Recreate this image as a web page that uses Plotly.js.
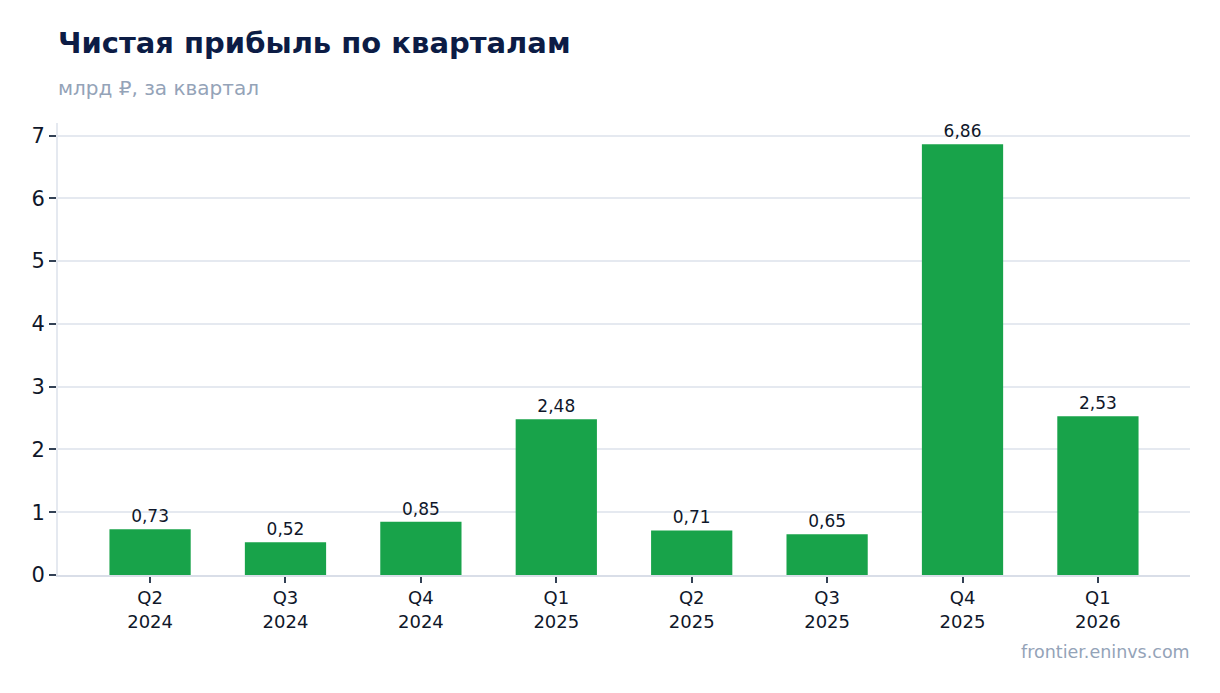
<!DOCTYPE html>
<html>
<head>
<meta charset="utf-8">
<script src="https://cdn.plot.ly/plotly-3.0.1.min.js"></script>
<style>
  html, body { margin: 0; padding: 0; background: #ffffff; }
  #chart { width: 1220px; height: 693px; }
</style>
</head>
<body>
<div id="chart"></div>
<script>
// квартальная чистая прибыль, млрд руб.
var quarters = ['Q2<br>2024', 'Q3<br>2024', 'Q4<br>2024', 'Q1<br>2025', 'Q2<br>2025', 'Q3<br>2025', 'Q4<br>2025', 'Q1<br>2026'];
var profit = [0.73, 0.52, 0.85, 2.48, 0.71, 0.65, 6.86, 2.53];
var labels = profit.map(function (v) { return v.toFixed(2).replace('.', ','); });

var font = 'DejaVu Sans, sans-serif';

var trace = {
    type: 'bar',
    x: quarters,
    y: profit,
    text: labels,
    textposition: 'outside',
    cliponaxis: false,
    textfont: { family: font, size: 17, color: '#0f172a' },
    marker: { color: '#18a34a' },
    width: 0.6,
    hoverinfo: 'none'
};

var layout = {
    width: 1220,
    height: 693,
    margin: { l: 58, r: 30, t: 123, b: 118 },
    paper_bgcolor: '#ffffff',
    plot_bgcolor: '#ffffff',
    showlegend: false,
    font: { family: font, color: '#0f172a' },
    xaxis: {
        type: 'category',
        range: [-0.68, 7.68],
        tickfont: { family: font, size: 18, color: '#0f172a' },
        ticks: 'outside',
        ticklen: 6,
        tickwidth: 2,
        tickcolor: '#334155',
        showgrid: false,
        showline: true,
        linecolor: '#d9dee8',
        linewidth: 1.5
    },
    yaxis: {
        range: [0, 7.2],
        dtick: 1,
        tickfont: { family: font, size: 21, color: '#0f172a' },
        ticks: 'outside',
        ticklen: 7,
        tickwidth: 2,
        tickcolor: '#334155',
        gridcolor: '#e5e9f0',
        gridwidth: 2,
        zeroline: false,
        showline: true,
        linecolor: '#e5e9f0',
        linewidth: 2
    },
    annotations: [
        {
            text: '<b>Чистая прибыль по кварталам</b>',
            xref: 'paper', yref: 'paper', x: 0, y: 1,
            xanchor: 'left', yanchor: 'middle',
            yshift: 80,
            xshift: -2,
            showarrow: false,
            font: { family: font, size: 29, color: '#0c1c45' }
        },
        {
            text: 'млрд ₽, за квартал',
            xref: 'paper', yref: 'paper', x: 0, y: 1,
            xanchor: 'left', yanchor: 'middle',
            yshift: 35,
            xshift: -2,
            showarrow: false,
            font: { family: font, size: 20, color: '#94a3b8' }
        },
        {
            text: 'frontier.eninvs.com',
            xref: 'paper', yref: 'paper', x: 1, y: 0,
            xanchor: 'right', yanchor: 'middle',
            yshift: -77,
            xshift: 2,
            showarrow: false,
            font: { family: font, size: 17.5, color: '#94a3b8' }
        }
    ]
};

Plotly.newPlot('chart', [trace], layout, { displayModeBar: false, staticPlot: true });
</script>
</body>
</html>
